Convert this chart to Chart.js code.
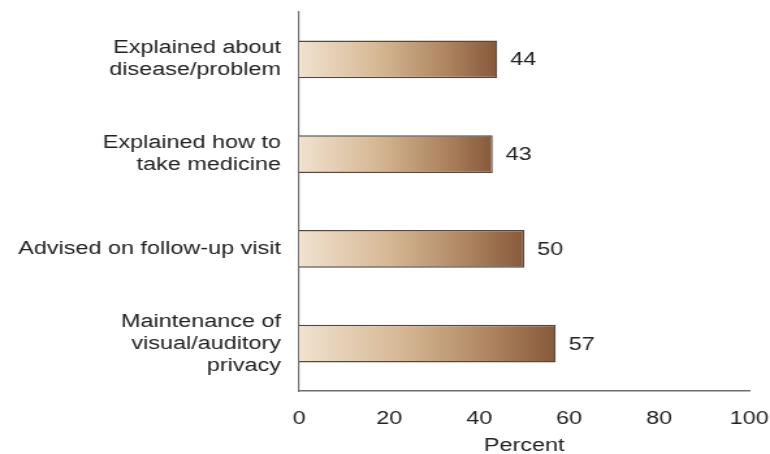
<!DOCTYPE html>
<html>
<head>
<meta charset="utf-8">
<script src="https://cdn.jsdelivr.net/npm/chart.js@4/dist/chart.umd.min.js"></script>
<style>
  html, body { margin: 0; padding: 0; background: #fff; overflow: hidden; }
  /* chart is laid out narrow, then widened so the type gets the wide look */
  #wrap {
    width: 592px; height: 454px; position: relative;
    transform: scaleX(1.3007); transform-origin: 0 0;
  }
</style>
</head>
<body>
<div id="wrap"><canvas id="chart"></canvas></div>
<script>
const categories = [
  ['Explained about', 'disease/problem'],
  ['Explained how to', 'take medicine'],
  'Advised on follow-up visit',
  ['Maintenance of', 'visual/auditory', 'privacy']
];
const percents = [44, 43, 50, 57];
const xTicks = [0, 20, 40, 60, 80, 100];

const FONT = '"Liberation Sans", Arial, Helvetica, sans-serif';
const INK = '#222222';

// left-to-right tan -> brown fill, stretched over each bar's own length
function barFill(ctx) {
  const chart = ctx.chart;
  const x = chart.scales && chart.scales.x;
  if (!chart.chartArea || !x || ctx.type !== 'data') return '#b58a60';
  const x0 = x.getPixelForValue(0);
  const x1 = x.getPixelForValue(ctx.raw);
  const g = chart.ctx.createLinearGradient(x0, 0, x1, 0);
  g.addColorStop(0, '#f1e2cf');
  g.addColorStop(0.4, '#d6b895');
  g.addColorStop(0.75, '#ad845f');
  g.addColorStop(1, '#86593b');
  return g;
}

const valueLabels = {
  id: 'valueLabels',
  afterDatasetsDraw(chart) {
    const c = chart.ctx;
    const meta = chart.getDatasetMeta(0);
    c.save();
    c.font = '18px ' + FONT;
    c.fillStyle = INK;
    c.textAlign = 'left';
    c.textBaseline = 'middle';
    meta.data.forEach((bar, i) => {
      c.fillText(String(percents[i]), bar.x + 10, bar.y + 1);
    });
    c.restore();
  }
};

new Chart(document.getElementById('chart'), {
  type: 'bar',
  data: {
    labels: categories,
    datasets: [{
      data: percents,
      backgroundColor: barFill,
      borderColor: '#54483f',
      borderWidth: { top: 1.5, bottom: 1.5, right: 1.2, left: 0 },
      borderSkipped: false,
      barPercentage: 0.4,
      categoryPercentage: 1
    }]
  },
  options: {
    indexAxis: 'y',
    responsive: true,
    maintainAspectRatio: false,
    animation: false,
    layout: { padding: { top: 12, right: 16, left: 0, bottom: 0 } },
    plugins: {
      legend: { display: false },
      tooltip: { enabled: false }
    },
    scales: {
      x: {
        min: 0,
        max: 100,
        afterBuildTicks(scale) {
          scale.ticks = xTicks.map(v => ({ value: v }));
        },
        afterFit(scale) {
          scale.height = 63;
          scale.paddingLeft = 0;
          scale.paddingRight = 0;
        },
        grid: { display: false, drawTicks: false },
        border: { display: true, color: '#6e6e6e', width: 1.5 },
        ticks: {
          padding: 17,
          color: INK,
          font: { family: FONT, size: 18 }
        },
        title: {
          display: true,
          text: 'Percent',
          color: INK,
          padding: { top: 4, bottom: -3 },
          font: { family: FONT, size: 18 }
        }
      },
      y: {
        afterFit(scale) {
          scale.width = 230;
          scale.paddingTop = 0;
          scale.paddingBottom = 0;
        },
        grid: { display: false, drawTicks: false },
        border: { display: true, color: '#6e6e6e', width: 1.2 },
        ticks: {
          padding: 14,
          color: INK,
          font: { family: FONT, size: 18, lineHeight: 1.22 }
        }
      }
    }
  },
  plugins: [valueLabels]
});
</script>
</body>
</html>
